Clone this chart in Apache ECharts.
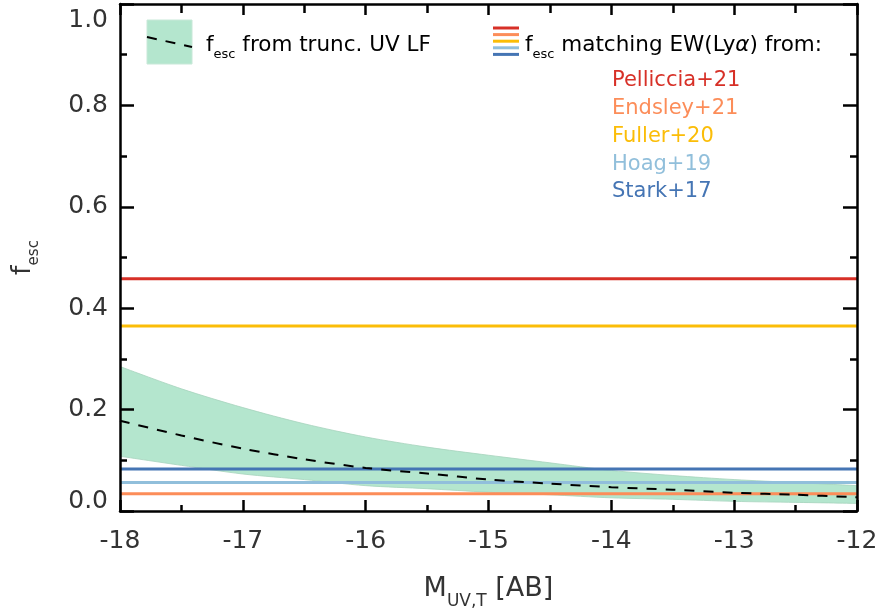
<!DOCTYPE html>
<html>
<head>
<meta charset="utf-8">
<script src="https://cdn.jsdelivr.net/npm/echarts@6/dist/echarts.min.js"></script>
<style>
  html, body { margin: 0; padding: 0; background: #fff; }
  #chart { width: 880px; height: 610px; }
</style>
</head>
<body>
<div id="chart"></div>
<script>
// truncation magnitude grid
const mUV = [-18, -17.5, -17, -16.5, -16, -15.5, -15, -14.5, -14, -13.5, -13, -12.5, -12];
// f_esc from truncated UV LF: upper / median / lower
const fescUpper = [0.285, 0.241, 0.204, 0.172, 0.146, 0.126, 0.110, 0.095, 0.080, 0.070, 0.062, 0.056, 0.050];
const fescMid   = [0.178, 0.149, 0.123, 0.102, 0.085, 0.074, 0.062, 0.054, 0.047, 0.042, 0.036, 0.032, 0.027];
const fescLower = [0.108, 0.090, 0.073, 0.062, 0.050, 0.044, 0.037, 0.032, 0.026, 0.023, 0.019, 0.017, 0.015];

// f_esc matching EW(Lya)
const refNames = ['Pelliccia+21', 'Endsley+21', 'Fuller+20', 'Hoag+19', 'Stark+17'];
const refFesc  = [0.458, 0.034, 0.365, 0.056, 0.083];
const refColors = ['#d73027', '#fc8d59', '#fbbd08', '#91bfdb', '#4575b4'];

const xMin = -18, xMax = -12;
const yTicks = [0, 0.2, 0.4, 0.6, 0.8, 1.0];

const font = 'DejaVu Sans';
const txt = '#333';

let chart = echarts.init(document.getElementById('chart'));

let pair = (xs, ys) => xs.map((x, i) => [x, ys[i]]);

let series = [];
// band: green fill under the upper edge, white fill under the lower edge
series.push({
  type: 'line', data: pair(mUV, fescUpper), smooth: 0.3, symbol: 'none',
  lineStyle: { color: '#a6d3bd', width: 0.8 }, areaStyle: { color: '#b4e6ce', opacity: 1 }, z: 1, silent: true
});
series.push({
  type: 'line', data: pair(mUV, fescLower), smooth: 0.3, symbol: 'none',
  lineStyle: { color: '#a6d3bd', width: 0.8 }, areaStyle: { color: '#fff', opacity: 1 }, z: 1, silent: true
});
// reference lines
refFesc.forEach((v, i) => series.push({
  type: 'line', name: refNames[i], data: [[xMin, v], [xMax, v]], symbol: 'none',
  lineStyle: { color: refColors[i], width: 3 }, z: 3, silent: true
}));
// median dashed
series.push({
  type: 'line', data: pair(mUV, fescMid), smooth: 0.3, symbol: 'none',
  lineStyle: { color: '#000', width: 2, type: [10, 9] }, z: 4, silent: true
});

let axisLineStyle = { color: '#000', width: 2.5 };
let tickStyle = { color: '#000', width: 2.5 };

let legendTexts = refNames.map((n, i) => ({
  type: 'text', x: 612, y: 81 + i * 27.7,
  style: { text: n, font: '21px "' + font + '"', fill: refColors[i], verticalAlign: 'middle', textVerticalAlign: 'middle' }
}));
let legendSwatches = refColors.map((c, i) => ({
  type: 'line', shape: { x1: 493, y1: 28 + i * 6.6, x2: 519, y2: 28 + i * 6.6 },
  style: { stroke: c, lineWidth: 3 }
}));

let subRich = (main, sub) => ({
  m: { fontSize: main, fontFamily: font, color: txt, lineHeight: main + 3 },
  s: { fontSize: sub, fontFamily: font, color: txt, lineHeight: sub + 1, padding: [Math.round(sub * 1.5), 0, 0, 0] },
  a: { fontSize: main, fontFamily: font, color: txt, fontStyle: 'italic', lineHeight: main + 3 }
});

chart.setOption({
  animation: false,
  backgroundColor: '#fff',
  grid: { left: 120, right: 23, top: 4, bottom: 99, containLabel: false, outerBoundsMode: 'none' },
  xAxis: [{
    type: 'value', min: xMin, max: xMax, interval: 1, position: 'bottom', z: 10,
    axisLine: { onZero: false, lineStyle: axisLineStyle },
    axisTick: { inside: true, length: 11, lineStyle: tickStyle },
    minorTick: { show: true, splitNumber: 2, length: 6, lineStyle: tickStyle },
    splitLine: { show: false },
    axisLabel: { fontSize: 25, fontFamily: font, color: txt, margin: 18 },
    name: '{m|M}{s|UV,T}{m| [AB]}', nameLocation: 'middle', nameGap: 63,
    nameTextStyle: { rich: subRich(27, 17) }
  }, {
    type: 'value', min: xMin, max: xMax, interval: 1, position: 'top', z: 10,
    axisLine: { onZero: false, lineStyle: axisLineStyle },
    axisTick: { inside: true, length: 11, lineStyle: tickStyle },
    minorTick: { show: true, splitNumber: 2, length: 9, lineStyle: tickStyle },
    splitLine: { show: false }, axisLabel: { show: false }
  }],
  yAxis: [{
    type: 'value', min: 0, max: 1, interval: 0.2, position: 'left', z: 10,
    axisLine: { onZero: false, lineStyle: axisLineStyle },
    axisTick: { inside: true, length: 14, lineStyle: tickStyle },
    minorTick: { show: true, splitNumber: 2, length: 7, lineStyle: tickStyle },
    splitLine: { show: false },
    axisLabel: {
      fontSize: 25, fontFamily: font, color: txt, margin: 12,
      formatter: v => {
        let s = v.toFixed(1);
        if (v === yTicks[yTicks.length - 1]) return '{top|' + s + '}';
        if (v === yTicks[0]) return '{bot|' + s + '}';
        return s;
      },
      rich: {
        top: { fontSize: 25, fontFamily: font, color: txt, padding: [32, 0, 0, 0] },
        bot: { fontSize: 25, fontFamily: font, color: txt, padding: [0, 0, 20, 0] }
      }
    },
    name: '{m|f}{s|esc}', nameLocation: 'middle', nameGap: 82,
    nameTextStyle: { rich: subRich(27, 15) }
  }, {
    type: 'value', min: 0, max: 1, interval: 0.2, position: 'right', z: 10,
    axisLine: { onZero: false, lineStyle: axisLineStyle },
    axisTick: { inside: true, length: 14, lineStyle: tickStyle },
    minorTick: { show: true, splitNumber: 2, length: 7, lineStyle: tickStyle },
    splitLine: { show: false }, axisLabel: { show: false }
  }],
  graphic: [
    { type: 'rect', shape: { x: 147, y: 20, width: 45, height: 44 }, style: { fill: '#b4e6ce', stroke: '#c8e8d8', lineWidth: 1 } },
    { type: 'line', shape: { x1: 147, y1: 37, x2: 192, y2: 47 }, style: { stroke: '#000', lineWidth: 2, lineDash: [10, 9] } },
    {
      type: 'text', x: 206, y: 45,
      style: { text: '{m|f}{s|esc}{m| from trunc. UV LF}', rich: subRich(21.5, 13), verticalAlign: 'middle', textVerticalAlign: 'middle' }
    },
    {
      type: 'text', x: 525, y: 45,
      style: { text: '{m|f}{s|esc}{m| matching EW(Ly}{a|α}{m|) from:}', rich: subRich(21.5, 13), verticalAlign: 'middle', textVerticalAlign: 'middle' }
    },
    ...legendSwatches,
    ...legendTexts
  ],
  series: series
});
</script>
</body>
</html>
